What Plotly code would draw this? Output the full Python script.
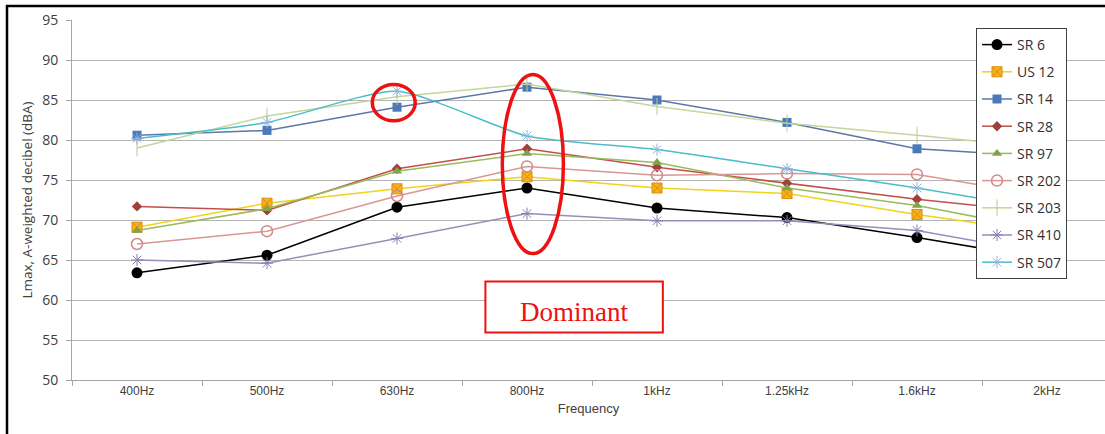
import plotly.graph_objects as go

categories = ["400Hz", "500Hz", "630Hz", "800Hz", "1kHz", "1.25kHz", "1.6kHz", "2kHz"]

sr6 = [63.4, 65.6, 71.6, 74.0, 71.5, 70.3, 67.8, 65.1]
us12 = [69.1, 72.1, 73.9, 75.4, 74.0, 73.3, 70.7, 68.4]
sr14 = [80.6, 81.2, 84.1, 86.6, 85.0, 82.2, 78.9, 77.9]
sr28 = [71.7, 71.2, 76.4, 78.9, 76.6, 74.6, 72.6, 70.9]
sr97 = [68.7, 71.4, 76.1, 78.3, 77.2, 74.0, 71.8, 68.7]
sr202 = [67.0, 68.6, 73.0, 76.7, 75.6, 75.8, 75.7, 73.0]
sr203 = [79.0, 83.0, 85.4, 87.0, 84.2, 82.1, 80.6, 79.0]
sr410 = [65.0, 64.6, 67.7, 70.8, 69.9, 69.9, 68.7, 65.8]
sr507 = [80.2, 82.2, 86.1, 80.5, 78.8, 76.4, 74.0, 71.3]

y_ticks = [50, 55, 60, 65, 70, 75, 80, 85, 90, 95]

series = [
    ("SR 6", sr6, dict(color="#000000"), dict(symbol="circle", size=11, color="#000000"), "linear"),
    ("US 12", us12, dict(color="#f2d21b"), dict(symbol="square-x", size=10, color="#f7b21a", line=dict(color="#d98c10", width=1)), "linear"),
    ("SR 14", sr14, dict(color="#5a78a8"), dict(symbol="square", size=9, color="#4a78b8"), "linear"),
    ("SR 28", sr28, dict(color="#c0504d"), dict(symbol="diamond", size=8, color="#a0403a"), "linear"),
    ("SR 97", sr97, dict(color="#9bbb59"), dict(symbol="triangle-up", size=9, color="#7fa34a"), "linear"),
    ("SR 202", sr202, dict(color="#d99694"), dict(symbol="circle-open", size=11, color="#d08a88", line=dict(width=1.5)), "linear"),
    ("SR 203", sr203, dict(color="#c3d69b"), dict(symbol="line-ns-open", size=12, color="#b8cc8c", line=dict(width=1)), "linear"),
    ("SR 410", sr410, dict(color="#9a8cb8"), dict(symbol="asterisk-open", size=10, color="#8a7cb0", line=dict(width=1)), "linear"),
    ("SR 507", sr507, dict(color="#4bbdc8"), dict(symbol="asterisk-open", size=10, color="#8fb4dd", line=dict(width=1)), "spline"),
]

fig = go.Figure()
for i, (name, vals, ln, mk, shape) in enumerate(series):
    line = dict(width=1.5, shape=shape, **ln)
    if shape == "spline":
        line["smoothing"] = 0.6
    fig.add_trace(go.Scatter(
        x=categories, y=vals, name=name, mode="lines+markers",
        line=line, marker=mk, legendgroup=f"g{i}",
    ))

L, T, B = 72, 20, 54
W, H = 1105, 434
pw, ph = W - L, H - T - B

def px(xp):
    return (xp - L) / pw

def py(yp):
    return (H - B - yp) / ph

shapes = [
    # outer frame (left and top edges visible)
    dict(type="line", xref="paper", yref="paper", x0=px(7), x1=px(7), y0=py(5), y1=py(434),
         line=dict(color="#000000", width=2.5), layer="below"),
    dict(type="line", xref="paper", yref="paper", x0=px(6), x1=px(1105), y0=py(6), y1=py(6),
         line=dict(color="#000000", width=2.5), layer="below"),
    # small circle around 630Hz
    dict(type="circle", xref="x", yref="y", x0=1.81, x1=2.14, y0=82.4, y1=86.95,
         line=dict(color="#ee1111", width=3.5), layer="above"),
    # big ellipse around 800Hz
    dict(type="circle", xref="x", yref="y", x0=2.81, x1=3.28, y0=65.8, y1=88.2,
         line=dict(color="#ee1111", width=3.5), layer="above"),
    # Dominant box
    dict(type="rect", xref="x", yref="y", x0=2.68, x1=4.045, y0=55.95, y1=62.3,
         line=dict(color="#ee1111", width=2), fillcolor="#ffffff", layer="above"),
]

fig.update_layout(
    width=W, height=H,
    margin=dict(l=L, r=0, t=T, b=B),
    paper_bgcolor="#ffffff", plot_bgcolor="#ffffff",
    shapes=shapes,
    annotations=[dict(x=3.36, y=58.55, xref="x", yref="y", text="Dominant", showarrow=False,
                      font=dict(family="Liberation Serif, Times New Roman, serif", size=27, color="#ee1111"))],
    legend=dict(
        x=px(976), y=py(28), xanchor="left", yanchor="top",
        bgcolor="#ffffff", bordercolor="#404040", borderwidth=1,
        font=dict(family="Open Sans, sans-serif", size=14, color="#303030"),
        tracegroupgap=6, itemwidth=30,
    ),
    xaxis=dict(
        type="category", range=[-0.5, -0.5 + pw / 130.0],
        tickson="boundaries", ticks="outside", ticklen=5, tickcolor="#a6a6a6",
        showline=True, linecolor="#a6a6a6", linewidth=1, showgrid=False,
        tickfont=dict(family="Liberation Sans Narrow, Arial Narrow, sans-serif", size=12, color="#404040"),
        title=dict(text="Frequency", standoff=6,
                   font=dict(family="Liberation Sans Narrow, Arial Narrow, sans-serif", size=13, color="#404040")),
    ),
    yaxis=dict(
        range=[50, 95], tickvals=y_ticks, ticks="outside", ticklen=5, tickcolor="#a6a6a6",
        showline=True, linecolor="#a6a6a6", linewidth=1,
        showgrid=True, gridcolor="#b4b4b4", gridwidth=1, zeroline=False,
        tickfont=dict(family="Open Sans, sans-serif", size=14, color="#404040"),
        ticklabelstandoff=5,
        title=dict(text="Lmax, A-weighted decibel (dBA)", standoff=6,
                   font=dict(family="Open Sans, sans-serif", size=13.5, color="#404040")),
    ),
)

fig.write_html("out.html", config={"displayModeBar": False},
               post_script="document.body.style.margin='0';document.body.style.overflow='hidden';")
